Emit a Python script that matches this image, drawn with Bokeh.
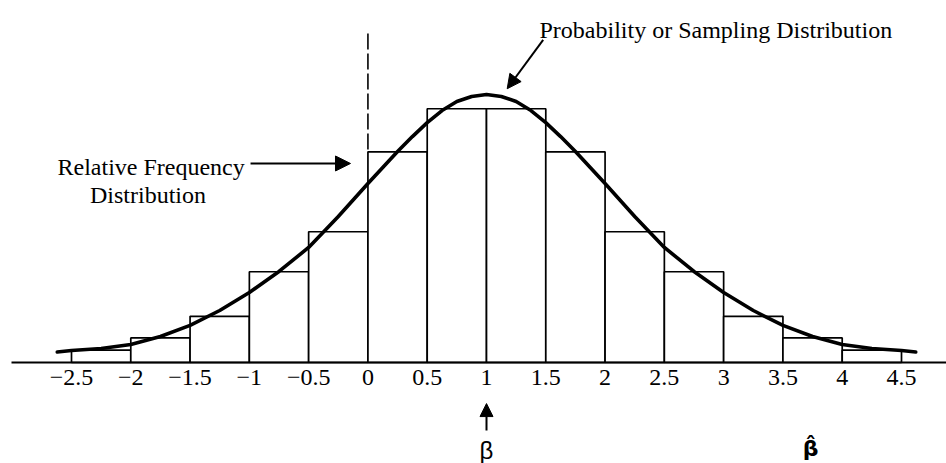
from bokeh.plotting import figure
from bokeh.models import (Range1d, LinearAxis, FixedTicker, CustomJSTickFormatter,
                          Label, Arrow, NormalHead, ColumnDataSource)
from bokeh.embed import file_html
from bokeh.resources import INLINE

# Histogram of the estimates (relative frequency, %), bins of width 0.5
bin_lo = [-2.5, -2.0, -1.5, -1.0, -0.5, 0.0, 0.5, 1.0, 1.5, 2.0, 2.5, 3.0, 3.5, 4.0]
bin_hi = [-2.0, -1.5, -1.0, -0.5, 0.0, 0.5, 1.0, 1.5, 2.0, 2.5, 3.0, 3.5, 4.0, 4.5]
rel_freq = [0.8, 1.6, 3.0, 5.9, 8.5, 13.7, 16.5, 16.5, 13.7, 8.5, 5.9, 3.0, 1.6, 0.8]

# Sampling distribution curve (same units)
curve_x = [-2.62, -2.5, -2.25, -2.0, -1.75, -1.5, -1.25, -1.0, -0.75, -0.5, -0.25,
           0.0, 0.125, 0.25, 0.375, 0.5, 0.625, 0.75, 0.875, 1.0,
           1.125, 1.25, 1.375, 1.5, 1.625, 1.75, 1.875, 2.0,
           2.25, 2.5, 2.75, 3.0, 3.25, 3.5, 3.75, 4.0, 4.25, 4.5, 4.62]
curve_y = [0.68, 0.78, 0.91, 1.17, 1.69, 2.41, 3.38, 4.55, 5.92, 7.48, 9.49,
           11.64, 12.68, 13.72, 14.69, 15.60, 16.38, 16.97, 17.30, 17.43,
           17.30, 16.97, 16.38, 15.60, 14.69, 13.72, 12.68, 11.64,
           9.49, 7.48, 5.92, 4.55, 3.38, 2.41, 1.69, 1.17, 0.91, 0.78, 0.68]

tick_values = [-2.5, -2.0, -1.5, -1.0, -0.5, 0.0, 0.5, 1.0, 1.5, 2.0, 2.5, 3.0, 3.5, 4.0, 4.5]
true_beta = 1.0

SERIF = "Liberation Serif"

p = figure(width=946, height=463, output_backend="svg", toolbar_location=None,
           x_range=Range1d(-3.0988, 4.8795), y_range=Range1d(-6.567, 23.537),
           x_axis_type=None, y_axis_type=None, min_border=0)
p.outline_line_color = None
p.background_fill_color = "white"
p.border_fill_color = "white"

# bars
src = ColumnDataSource(dict(left=bin_lo, right=bin_hi, top=rel_freq))
p.quad(left="left", right="right", bottom=0, top="top", source=src,
       fill_color="white", line_color="black", line_width=1.7)

# density curve
p.line(curve_x, curve_y, line_color="black", line_width=3.6,
       line_join="round", line_cap="round")

# dashed reference at zero
p.segment(x0=[0.0], y0=[21.39], x1=[0.0], y1=[13.7], line_color="black",
          line_width=1.6, line_dash="16 4")

# horizontal axis drawn at y = 0
ax = LinearAxis(fixed_location=0, ticker=FixedTicker(ticks=tick_values),
                formatter=CustomJSTickFormatter(code="""
                    return tick < 0 ? "\\u2212" + Math.abs(tick) : String(tick);
                """))
ax.bounds = (-3.006, 4.8795)
ax.axis_line_width = 2.2
ax.axis_line_color = "black"
ax.major_tick_line_color = None
ax.minor_tick_line_color = None
ax.major_tick_out = 0
ax.major_tick_in = 0
ax.major_label_standoff = 8
ax.major_label_text_font = SERIF
ax.major_label_text_font_size = "24px"
ax.major_label_text_color = "black"
p.add_layout(ax, "below")

# annotations
p.add_layout(Label(x=1.447, y=21.62, text="Probability or Sampling Distribution",
                   text_font=SERIF, text_font_size="24px", text_color="black",
                   text_baseline="alphabetic"))
p.add_layout(Arrow(x_start=1.478, y_start=20.98, x_end=1.1745, y_end=17.80,
                   line_width=2, line_color="black",
                   end=NormalHead(size=14, fill_color="black", line_color="black")))

p.add_layout(Label(x=-2.618, y=12.71, text="Relative Frequency",
                   text_font=SERIF, text_font_size="24px", text_color="black",
                   text_baseline="alphabetic"))
p.add_layout(Label(x=-1.855, y=10.86, text="Distribution",
                   text_font=SERIF, text_font_size="24px", text_color="black",
                   text_baseline="alphabetic", text_align="center"))
p.add_layout(Arrow(x_start=-0.990, y_start=12.94, x_end=-0.147, y_end=12.94,
                   line_width=2, line_color="black",
                   end=NormalHead(size=15, fill_color="black", line_color="black")))

# true parameter marker below the axis
p.add_layout(Arrow(x_start=true_beta, y_start=-4.42, x_end=true_beta, y_end=-2.67,
                   line_width=2, line_color="black",
                   end=NormalHead(size=13, fill_color="black", line_color="black")))
p.add_layout(Label(x=true_beta, y=-5.72, text="β", text_font="Liberation Sans",
                   text_font_size="24px", text_color="black",
                   text_align="center", text_baseline="middle"))
p.add_layout(Label(x=3.733, y=-5.59, text="β̂", text_font="DejaVu Sans",
                   text_font_size="22px", text_font_style="bold", text_color="black",
                   text_align="center", text_baseline="middle"))

open("out.html", "w").write(file_html(p, INLINE))
